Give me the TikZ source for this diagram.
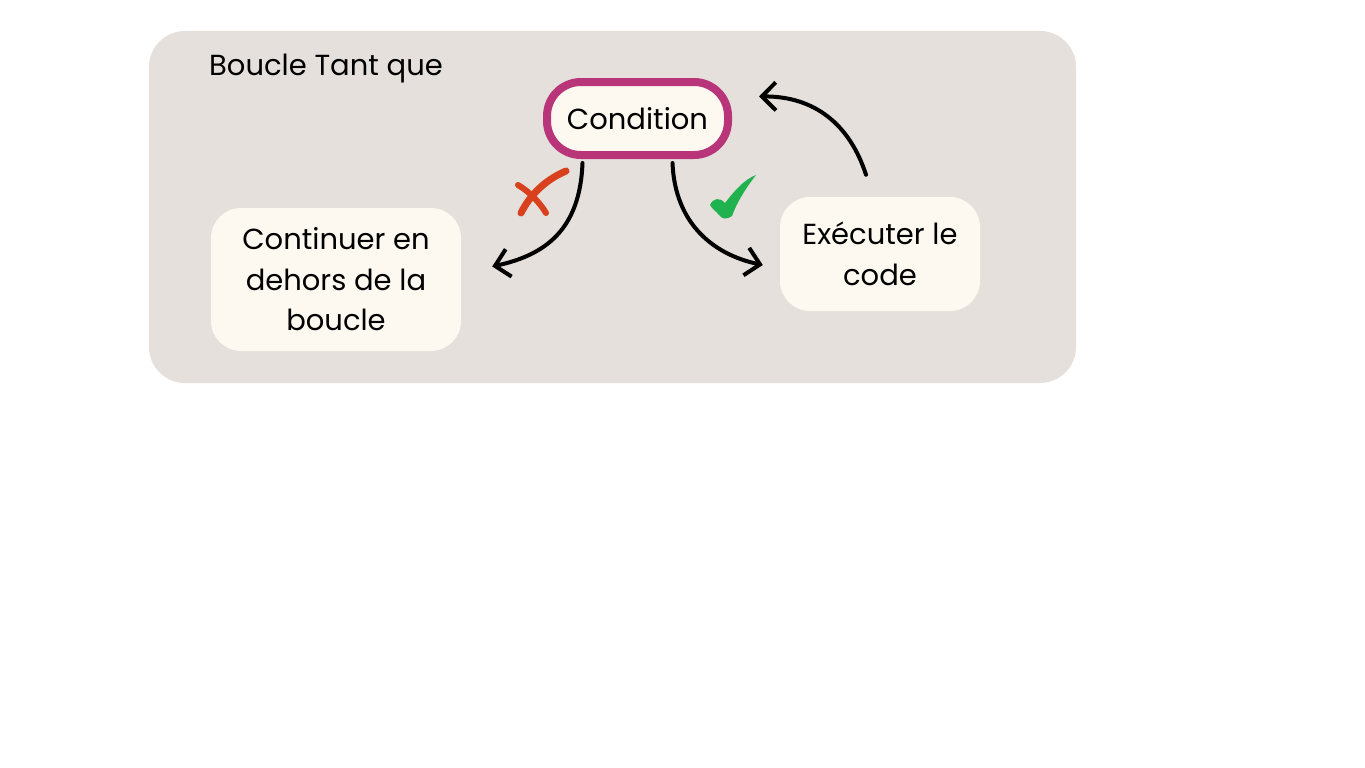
\documentclass[tikz,border=0pt]{standalone}
\usepackage{fontspec}
\setmainfont{Poppins}
\usetikzlibrary{arrows.meta}
\definecolor{panel}{HTML}{E5E0DB}
\definecolor{boxfill}{HTML}{FDF9F1}
\definecolor{magenta}{HTML}{B8357A}
\definecolor{crossred}{HTML}{D8401E}
\definecolor{checkgreen}{HTML}{20B24E}
\tikzset{
  lbl/.style={font=\fontsize{29}{40.5}\selectfont, text=black, align=center, inner sep=0pt},
  boxnode/.style={fill=boxfill, rounded corners=30pt, lbl},
  arr/.style={line width=4pt, line cap=round, -{Straight Barb[length=14pt, width=28pt, line width=4pt]}},
}
\begin{document}
\begin{tikzpicture}[x=1pt, y=-1pt]
\useasboundingbox (0,0) rectangle (1365,768);
\fill[white] (0,0) rectangle (1365,768);
\fill[panel, rounded corners=36pt] (149,31) rectangle (1076,383);
\node[lbl, anchor=west] (title) at (209,69) {Boucle Tant que};
\node[boxnode, minimum width=250pt, minimum height=143pt] (left) at (336,279.5) {Continuer en\\dehors de la\\boucle};
\node[boxnode, minimum width=200pt, minimum height=114pt] (right) at (880,254) {Exécuter le\\code};
\node[lbl, fill=boxfill, draw=magenta, line width=8pt, rounded corners=34pt, minimum width=181pt, minimum height=73pt] (cond) at (637.5,118.5) {Condition};
% connectors
\draw[arr] ([xshift=-55pt]cond.south) ++(0,4) .. controls (580,230) and (545,255) .. ([xshift=31pt, yshift=13pt]left.east);
\draw[arr] ([xshift=35pt]cond.south) ++(0,4) .. controls (675,225) and (715,255) .. ([xshift=-17pt, yshift=-11pt]right.west);
\draw[arr] ([xshift=-14pt, yshift=22pt]right.north) .. controls (850,125) and (815,96) .. ([xshift=27pt, yshift=22pt]cond.east);
% red cross
\draw[crossred, line width=7pt, line cap=round] (566,171) .. controls (545,180) and (530,195) .. (521,213);
\draw[crossred, line width=6pt, line cap=round] (518,185) .. controls (530,192) and (540,203) .. (546,213);
% green check
\fill[checkgreen] (710,205) .. controls (713,198) and (720,197) .. (725,203)
  .. controls (735,190) and (745,179) .. (756,175)
  .. controls (746,188) and (737,202) .. (732,216)
  .. controls (726,220) and (722,219) .. (719,215)
  .. controls (716,211) and (712,209) .. (710,205) -- cycle;
\end{tikzpicture}
\end{document}
